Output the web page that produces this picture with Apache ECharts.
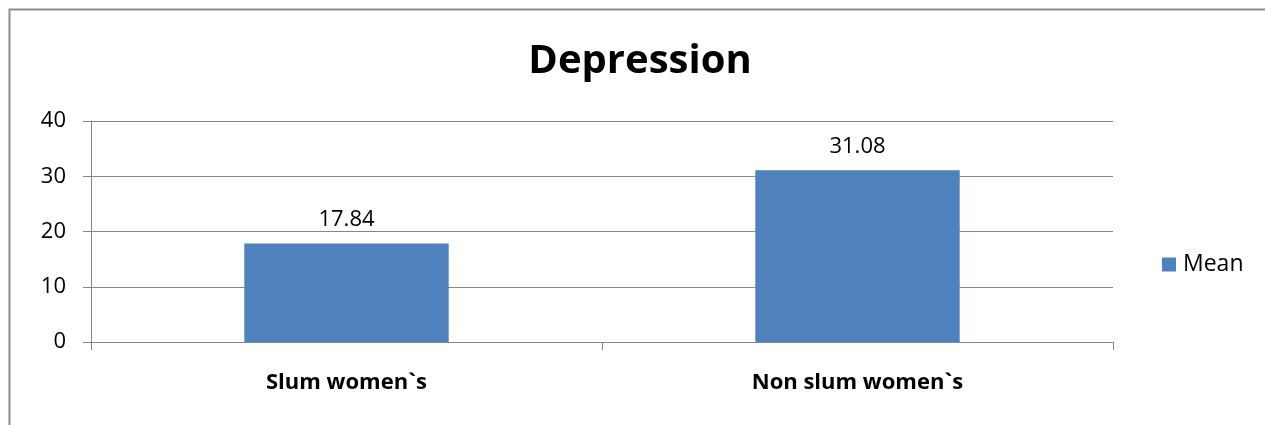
<!DOCTYPE html>
<html>
<head>
<meta charset="utf-8">
<script src="https://cdn.jsdelivr.net/npm/echarts@6/dist/echarts.min.js"></script>
<style>
  html, body { margin: 0; padding: 0; background: #fff; }
  #chart { width: 1265px; height: 425px; }
</style>
</head>
<body>
<div id="chart"></div>
<script>
const CATEGORIES = ['Slum women`s', 'Non slum women`s']
const MEAN = [17.84, 31.08]
const Y_TICKS = [0, 10, 20, 30, 40]

const chart = echarts.init(document.getElementById('chart'))
const FONT = '"Open Sans", sans-serif'
const GRID_COLOR = '#868686'

const option = {
    backgroundColor: '#fff',
    animation: false,
    title: {
        text: 'Depression',
        left: 635,
        top: 37,
        textAlign: 'center',
        textStyle: {
            color: '#000',
            fontSize: 40,
            fontWeight: 'bold',
            fontFamily: FONT
        }
    },
    legend: {
        data: ['Mean'],
        left: 1157,
        top: 248,
        orient: 'vertical',
        icon: 'rect',
        itemWidth: 14,
        itemHeight: 14,
        itemGap: 6,
        textStyle: {
            color: '#000',
            fontSize: 23,
            fontFamily: FONT,
            padding: [0, 0, 0, 2]
        }
    },
    grid: {
        left: 91,
        right: 152,
        top: 121,
        bottom: 83
    },
    xAxis: {
        type: 'category',
        data: CATEGORIES,
        axisLine: { show: true, lineStyle: { color: GRID_COLOR, width: 1 } },
        axisTick: { show: true, length: 8, lineStyle: { color: GRID_COLOR } },
        axisLabel: {
            color: '#000',
            fontSize: 22,
            fontWeight: 'bold',
            fontFamily: FONT,
            margin: 30
        }
    },
    yAxis: {
        type: 'value',
        min: Y_TICKS[0],
        max: Y_TICKS[Y_TICKS.length - 1],
        interval: 10,
        axisLine: { show: true, lineStyle: { color: GRID_COLOR, width: 1 } },
        axisTick: { show: true, length: 8, lineStyle: { color: GRID_COLOR } },
        splitLine: { show: true, lineStyle: { color: GRID_COLOR, width: 1 } },
        axisLabel: {
            color: '#000',
            fontSize: 22,
            fontFamily: FONT,
            margin: 25
        }
    },
    series: [{
        name: 'Mean',
        type: 'bar',
        data: MEAN,
        barWidth: '40%',
        itemStyle: { color: '#4F81BD' },
        label: {
            show: true,
            position: 'top',
            distance: 13,
            color: '#000',
            fontSize: 22,
            fontFamily: FONT,
            formatter: (p) => p.value.toFixed(2)
        }
    }],
    graphic: [{
        type: 'polyline',
        shape: { points: [[9.5, 425], [9.5, 9.5], [1265, 9.5]] },
        style: { stroke: '#8c8c8c', lineWidth: 2, fill: null },
        silent: true
    }]
}
chart.setOption(option)
</script>
</body>
</html>
